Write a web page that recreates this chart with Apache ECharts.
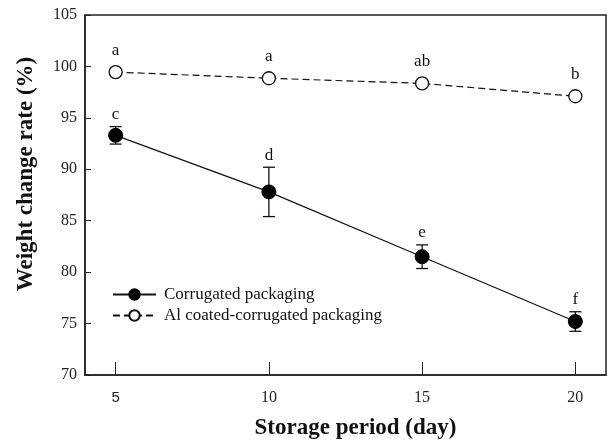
<!DOCTYPE html>
<html>
<head>
<meta charset="utf-8">
<script src="https://cdn.jsdelivr.net/npm/echarts@6/dist/echarts.min.js"></script>
<style>
  html, body { margin: 0; padding: 0; background: #fff; }
  #chart { width: 610px; height: 445px; }
</style>
</head>
<body>
<div id="chart"></div>
<script>
// storage day
var days = [5, 10, 15, 20]
var xTicks = [5, 10, 15, 20]

// weight change rate (%)
var corrugated = [93.3, 87.8, 81.5, 75.2]
var corrugatedErr = [0.85, 2.4, 1.15, 0.95]
var corrugatedLetters = ['c', 'd', 'e', 'f']

var alCoated = [99.45, 98.85, 98.35, 97.1]
var alCoatedLetters = ['a', 'a', 'ab', 'b']

var serif = '"Liberation Serif", "Times New Roman", serif'

function pairs(xs, ys) {
  return xs.map(function (x, i) { return [x, ys[i]] })
}

var chart = echarts.init(document.getElementById('chart'), null, { renderer: 'canvas' })

chart.setOption({
  animation: false,
  backgroundColor: '#fff',
  grid: {
    left: 85,
    right: 4,
    top: 15,
    bottom: 67,
    show: true,
    borderColor: '#222',
    borderWidth: 1.5,
    backgroundColor: 'transparent'
  },
  legend: {
    orient: 'vertical',
    left: 107,
    top: 281,
    itemWidth: 43,
    itemHeight: 13,
    itemGap: 4,
    textStyle: { fontFamily: serif, fontSize: 17, color: '#111', padding: [0, 0, 0, 3] },
    data: ['Corrugated packaging', 'Al coated-corrugated packaging']
  },
  xAxis: {
    type: 'value',
    min: 4,
    max: 21,
    name: 'Storage period (day)',
    nameLocation: 'middle',
    nameGap: 42,
    nameTextStyle: {
      fontFamily: serif, fontSize: 23, fontWeight: 'bold', color: '#111',
      padding: [0, 0, 0, 20]
    },
    axisLine: { lineStyle: { color: '#222', width: 1.5 } },
    axisTick: {
      inside: true,
      length: 13,
      customValues: xTicks,
      lineStyle: { color: '#222', width: 1 }
    },
    axisLabel: {
      customValues: xTicks,
      margin: 15,
      fontFamily: serif,
      fontSize: 16,
      color: '#222',
      formatter: function (v) {
        return v === 5 ? '{s|5}' : String(v)
      },
      rich: {
        s: { fontFamily: 'Arial, "Liberation Sans", sans-serif', fontSize: 15, color: '#222' }
      }
    },
    splitLine: { show: false }
  },
  yAxis: {
    type: 'value',
    min: 70,
    max: 105,
    interval: 5,
    name: 'Weight change rate (%)',
    nameLocation: 'middle',
    nameGap: 47,
    nameTextStyle: {
      fontFamily: serif, fontSize: 23, fontWeight: 'bold', color: '#111',
      padding: [0, 0, 0, 42]
    },
    axisLine: { lineStyle: { color: '#222', width: 1.5 } },
    axisTick: { inside: true, length: 6, lineStyle: { color: '#222', width: 1 } },
    axisLabel: { fontFamily: serif, fontSize: 16, color: '#222', margin: 8 },
    splitLine: { show: false }
  },
  series: [
    {
      name: 'Corrugated packaging',
      type: 'line',
      data: pairs(days, corrugated),
      symbol: 'circle',
      symbolSize: 14,
      lineStyle: { color: '#111', width: 1.2 },
      itemStyle: { color: '#000', borderColor: '#000', borderWidth: 1 },
      z: 3
    },
    {
      name: 'Al coated-corrugated packaging',
      type: 'line',
      data: pairs(days, alCoated),
      symbol: 'circle',
      symbolSize: 13,
      lineStyle: { color: '#111', width: 1.2, type: [7, 4] },
      itemStyle: { color: '#fff', borderColor: '#111', borderWidth: 1.3 },
      z: 3
    },
    {
      // error bars + letters for corrugated
      type: 'custom',
      data: days.map(function (d, i) {
        return [d, corrugated[i] - corrugatedErr[i], corrugated[i] + corrugatedErr[i], i]
      }),
      renderItem: function (params, api) {
        var lo = api.coord([api.value(0), api.value(1)])
        var hi = api.coord([api.value(0), api.value(2)])
        var idx = api.value(3)
        var cap = 6
        var style = { stroke: '#111', lineWidth: 1.3 }
        return {
          type: 'group',
          children: [
            { type: 'line', shape: { x1: lo[0], y1: lo[1], x2: hi[0], y2: hi[1] }, style: style },
            { type: 'line', shape: { x1: lo[0] - cap, y1: lo[1], x2: lo[0] + cap, y2: lo[1] }, style: style },
            { type: 'line', shape: { x1: hi[0] - cap, y1: hi[1], x2: hi[0] + cap, y2: hi[1] }, style: style },
            {
              type: 'text',
              style: {
                text: corrugatedLetters[idx],
                x: hi[0],
                y: hi[1] - 12,
                align: 'center',
                verticalAlign: 'middle',
                font: '17px ' + serif,
                fill: '#111'
              }
            }
          ]
        }
      },
      z: 2
    },
    {
      // letters for Al coated
      type: 'custom',
      data: days.map(function (d, i) { return [d, alCoated[i], i] }),
      renderItem: function (params, api) {
        var p = api.coord([api.value(0), api.value(1)])
        return {
          type: 'text',
          style: {
            text: alCoatedLetters[api.value(2)],
            x: p[0],
            y: p[1] - 22,
            align: 'center',
            verticalAlign: 'middle',
            font: '17px ' + serif,
            fill: '#111'
          }
        }
      },
      z: 2
    }
  ]
})
</script>
</body>
</html>
